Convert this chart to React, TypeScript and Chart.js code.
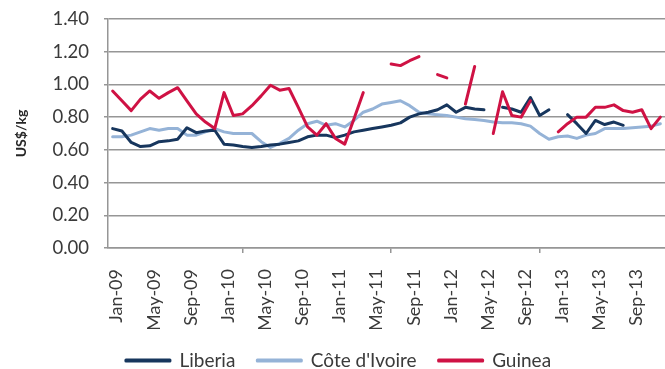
import { useEffect, useRef } from 'react';
import { Chart, registerables } from 'chart.js';

Chart.register(...registerables);

// Monthly categories, Jan-09 through Dec-13
const monthNames = ['Jan', 'Feb', 'Mar', 'Apr', 'May', 'Jun', 'Jul', 'Aug', 'Sep', 'Oct', 'Nov', 'Dec'];
const years = ['09', '10', '11', '12', '13'];
const categories = years.flatMap((y) => monthNames.map((m) => `${m}-${y}`));

// Prices in US$/kg (null = no observation)
const liberia = [
  0.73, 0.715, 0.645, 0.62, 0.625, 0.65, 0.655, 0.665, 0.735, 0.705, 0.715, 0.72,
  0.635, 0.63, 0.62, 0.615, 0.62, 0.63, 0.635, 0.645, 0.655, 0.68, 0.69, 0.69,
  0.675, 0.69, 0.71, 0.72, 0.73, 0.74, 0.75, 0.765, 0.8, 0.82, 0.83, 0.845,
  0.875, 0.83, 0.86, 0.85, 0.845, null, 0.86, 0.85, 0.83, 0.92, 0.81, 0.845,
  null, 0.815, 0.76, 0.7, 0.78, 0.755, 0.77, 0.75, null, null, null, null,
];

const coteDIvoire = [
  0.68, 0.68, 0.69, 0.71, 0.73, 0.72, 0.73, 0.73, 0.69, 0.69, 0.71, 0.73,
  0.71, 0.7, 0.7, 0.7, 0.65, 0.615, 0.64, 0.67, 0.72, 0.76, 0.775, 0.75,
  0.76, 0.74, 0.78, 0.83, 0.85, 0.88, 0.89, 0.9, 0.87, 0.83, 0.82, 0.815,
  0.81, 0.8, 0.79, 0.785, 0.78, 0.77, 0.765, 0.765, 0.76, 0.745, 0.7, 0.665,
  0.68, 0.685, 0.67, 0.69, 0.7, 0.73, 0.73, 0.73, 0.735, 0.74, 0.745, 0.76,
];

const guinea = [
  0.96, 0.9, 0.84, 0.91, 0.96, 0.915, 0.95, 0.98, 0.9, 0.82, 0.77, 0.73,
  0.95, 0.81, 0.82, 0.87, 0.93, 0.995, 0.965, 0.975, 0.86, 0.74, 0.69, 0.76,
  0.67, 0.635, 0.79, 0.95, null, null, 1.125, 1.115, 1.145, 1.17, null, 1.06,
  1.04, null, 0.88, 1.11, null, 0.7, 0.955, 0.81, 0.8, 0.9, null, null,
  0.71, 0.76, 0.8, 0.8, 0.86, 0.86, 0.875, 0.84, 0.83, 0.845, 0.73, 0.8,
];

const FONT = 'Lato, "Open Sans", sans-serif';
const GRID = '#969696';
const TEXT = '#3a3a3a';

export default function App() {
  const canvasRef = useRef<HTMLCanvasElement>(null);

  useEffect(() => {
    if (!canvasRef.current) return;
    const line = (label: string, data: (number | null)[], color: string, order: number) => ({
      label,
      data,
      borderColor: color,
      backgroundColor: color,
      borderWidth: 3,
      pointRadius: 0,
      pointHoverRadius: 0,
      tension: 0,
      borderJoinStyle: 'round' as const,
      borderCapStyle: 'round' as const,
      spanGaps: false,
      order,
    });

    const chart = new Chart(canvasRef.current, {
      type: 'line',
      data: {
        labels: categories,
        datasets: [
          line('Liberia', liberia, '#17365d', 1),
          line("Côte d'Ivoire", coteDIvoire, '#95b3d7', 2),
          line('Guinea', guinea, '#cf1244', 0),
        ],
      },
      options: {
        animation: false,
        responsive: false,
        events: [],
        layout: { padding: { top: 19, left: 12, right: 0, bottom: 0 } },
        plugins: {
          tooltip: { enabled: false },
          legend: {
            position: 'bottom',
            labels: {
              boxWidth: 44,
              boxHeight: 1,
              padding: 22,
              color: TEXT,
              font: { family: FONT, size: 19 },
              sort: (a: any, b: any) => a.datasetIndex - b.datasetIndex,
            },
          },
        },
        scales: {
          x: {
            offset: true,
            grid: {
              offset: true,
              drawOnChartArea: false,
              drawTicks: true,
              tickLength: 5,
              lineWidth: 1.5,
              color: (ctx: any) => (ctx.index % 4 === 0 ? GRID : 'rgba(0,0,0,0)'),
              tickColor: (ctx: any) => (ctx.index % 4 === 0 ? GRID : 'rgba(0,0,0,0)'),
            },
            border: { display: true, color: GRID, width: 1.5 },
            ticks: {
              autoSkip: false,
              maxRotation: 90,
              minRotation: 90,
              padding: 16,
              labelOffset: 4,
              color: TEXT,
              font: { family: FONT, size: 18 },
              callback: (_v: any, i: number) => (i % 4 === 0 ? categories[i] : null),
            },
            afterFit: (s: any) => {
              s.height = 81;
              s.paddingLeft = 0;
              s.paddingRight = 0;
            },
          },
          y: {
            min: 0,
            max: 1.4,
            grid: { color: GRID, lineWidth: 1.5, tickLength: 4 },
            border: { display: true, color: GRID, width: 1.5 },
            ticks: {
              stepSize: 0.2,
              padding: 15,
              color: TEXT,
              font: { family: FONT, size: 18.5 },
              callback: (v: any) => Number(v).toFixed(2),
            },
            title: {
              display: true,
              text: 'US$/kg',
              color: '#262626',
              font: { family: FONT, size: 14, weight: 'bold' },
              padding: { top: 1.5, bottom: 0 },
            },
            afterFit: (s: any) => {
              s.width = 96;
              s.paddingTop = 0;
              s.paddingBottom = 0;
            },
          },
        },
      },
    });
    return () => chart.destroy();
  }, []);

  return (
    <div style={{ position: 'absolute', left: 0, top: 0, width: 665, height: 369, overflow: 'hidden', background: '#fff' }}>
      <canvas ref={canvasRef} width={665} height={380} style={{ display: 'block' }} />
    </div>
  );
}
